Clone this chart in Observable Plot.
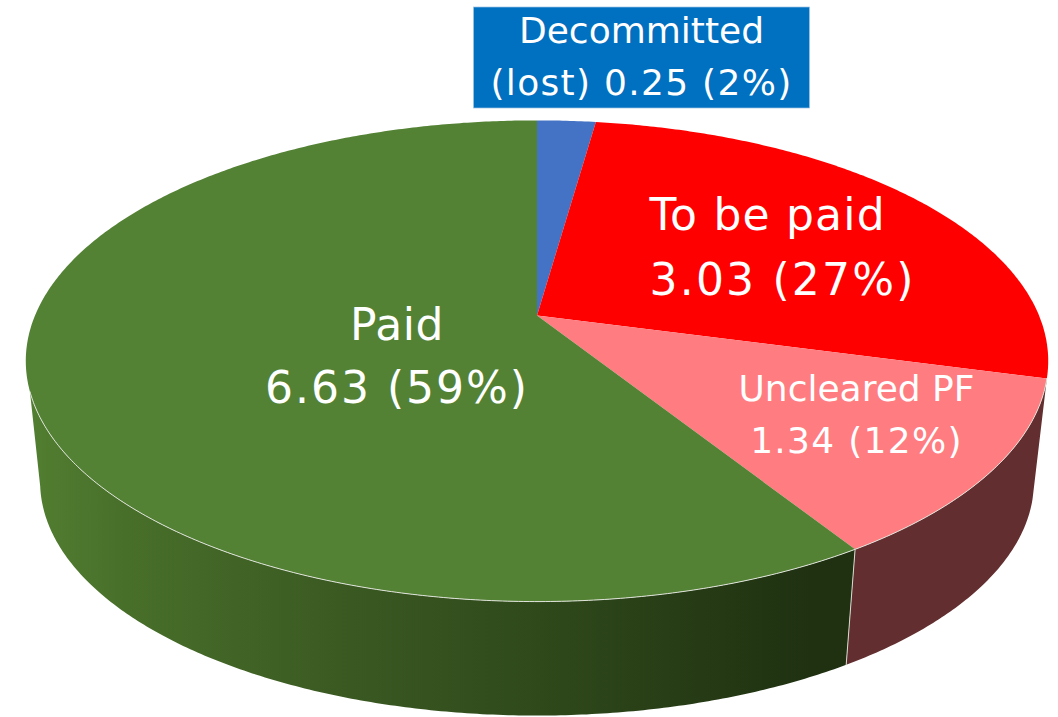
<!DOCTYPE html>
<html>
<head>
<meta charset="utf-8">
<style>html,body{margin:0;padding:0;background:#fff}svg{display:block}</style>
<script src="https://cdn.jsdelivr.net/npm/d3@7"></script>
<script src="https://cdn.jsdelivr.net/npm/@observablehq/plot@0.6"></script>
</head>
<body>
<div id="chart"></div>
<script>
// Chart values
const categories = ["Decommitted (lost)", "To be paid", "Uncleared PF", "Paid"];
const amounts = [0.25, 3.03, 1.34, 6.63];
const shares = ["2%", "27%", "12%", "59%"];
const topColors = ["#4472C4", "#FF0000", "#FF7C80", "#548235"];

// Perspective view of the pie
const view = {cx: 536.5, cy: 315, d: 502, a: 232, c: -0.189, shrink: 0.972, drop: 122};
function project(deg, r = 1, low = false) {
  const t = deg * Math.PI / 180, u = r * Math.sin(t), v = -r * Math.cos(t);
  const w = 1 + view.c * v;
  let x = view.d * u / w, y = view.a * v / w;
  if (low) { x *= view.shrink; y = y * view.shrink + view.drop; }
  return {x: view.cx + x, y: view.cy + y};
}
const total = d3.sum(amounts);
let acc = 0;
const slices = categories.map((name, i) => {
  const start = acc / total * 360;
  acc += amounts[i];
  return {name, start, end: acc / total * 360, color: topColors[i]};
});
function arc(a0, a1, low = false) {
  const n = Math.max(2, Math.ceil(Math.abs(a1 - a0) * 2));
  return d3.range(n + 1).map(i => project(a0 + (a1 - a0) * i / n, 1, low));
}
const face = s => {
  const ring = [{x: view.cx, y: view.cy}, ...arc(s.start, s.end)];
  return [...ring, ring[0]];
};
const wall = (a0, a1, a1Low = a1) => {
  const ring = [...arc(a0, a1), ...arc(a1Low, a0, true)];
  return [...ring, ring[0]];
};
const [, , pink, paid] = slices;
const silhouette = 252;
const silhouetteLow = 258;

const outline = {x: "x", y: "y", stroke: "none"};
// One entry per text line, with its placement on the picture
const labels = [
  {text: slices[3].name, x: 396.5, y: 325, size: 44, anchor: "middle", spacing: 0.6},
  {text: `${amounts[3]} (${shares[3]})`, x: 396.5, y: 388, size: 44, anchor: "middle", spacing: 2},
  {text: slices[1].name, x: 649, y: 215, size: 44, anchor: "start", spacing: 1.2},
  {text: `${amounts[1]} (${shares[1]})`, x: 649, y: 280.5, size: 44, anchor: "start", spacing: 2.2},
  {text: slices[2].name, x: 856, y: 388.5, size: 36, anchor: "middle", spacing: 0},
  {text: `${amounts[2]} (${shares[2]})`, x: 856, y: 441, size: 36, anchor: "middle", spacing: 1.3},
  {text: "Decommitted", x: 641, y: 30.5, size: 36, anchor: "middle", spacing: 0},
  {text: `(lost) ${amounts[0]} (${shares[0]})`, x: 641, y: 83, size: 36, anchor: "middle", spacing: 1.3}
];
const labelMark = l => Plot.text([l], {
  x: "x", y: "y", text: "text", fill: "white", fontSize: l.size,
  textAnchor: l.anchor, fontFamily: "DejaVu Sans"
});

function gradientDefs() {
  const defs = d3.create("svg:defs");
  const g = defs.append("linearGradient").attr("id", "paidWall")
    .attr("gradientUnits", "userSpaceOnUse")
    .attr("x1", 25).attr("x2", 853).attr("y1", 0).attr("y2", 0);
  [[0, "#527f31"], [0.12, "#486f2a"], [0.35, "#3c5c23"], [0.65, "#2e471a"], [0.95, "#1f3111"], [1, "#1f3111"]]
    .forEach(([o, c]) => g.append("stop").attr("offset", o).attr("stop-color", c));
  return defs.node();
}

const chart = Plot.plot({
  width: 1058, height: 717,
  margin: 0,
  x: {domain: [0, 1058], range: [0, 1058], axis: null},
  y: {domain: [0, 717], range: [0, 717], axis: null},
  style: {background: "white"},
  marks: [
    gradientDefs,
    Plot.line(wall(pink.start, pink.end), {...outline, fill: "#632E2F"}),
    Plot.line(wall(paid.start, silhouette, silhouetteLow), {...outline, fill: "url(#paidWall)"}),
    ...slices.map(s => Plot.line(face(s), {...outline, fill: s.color})),
    Plot.line(arc(pink.start, silhouette), {x: "x", y: "y", stroke: "#dfe3da", strokeWidth: 1}),
    Plot.line([project(paid.start), project(paid.start, 1, true)], {x: "x", y: "y", stroke: "#d5dcd0", strokeWidth: 1}),
    Plot.rect([{x1: 473.5, x2: 809.5, y1: 7, y2: 108}], {x1: "x1", x2: "x2", y1: "y1", y2: "y2", fill: "#0070C0", stroke: "#9DC3E6", strokeWidth: 0.7}),
    ...labels.map(labelMark)
  ]
});
d3.select(chart).selectAll("text").each(function (_, i) {
  if (labels[i]) this.style.letterSpacing = labels[i].spacing + "px";
});
document.getElementById("chart").appendChild(chart);
</script>
</body>
</html>
